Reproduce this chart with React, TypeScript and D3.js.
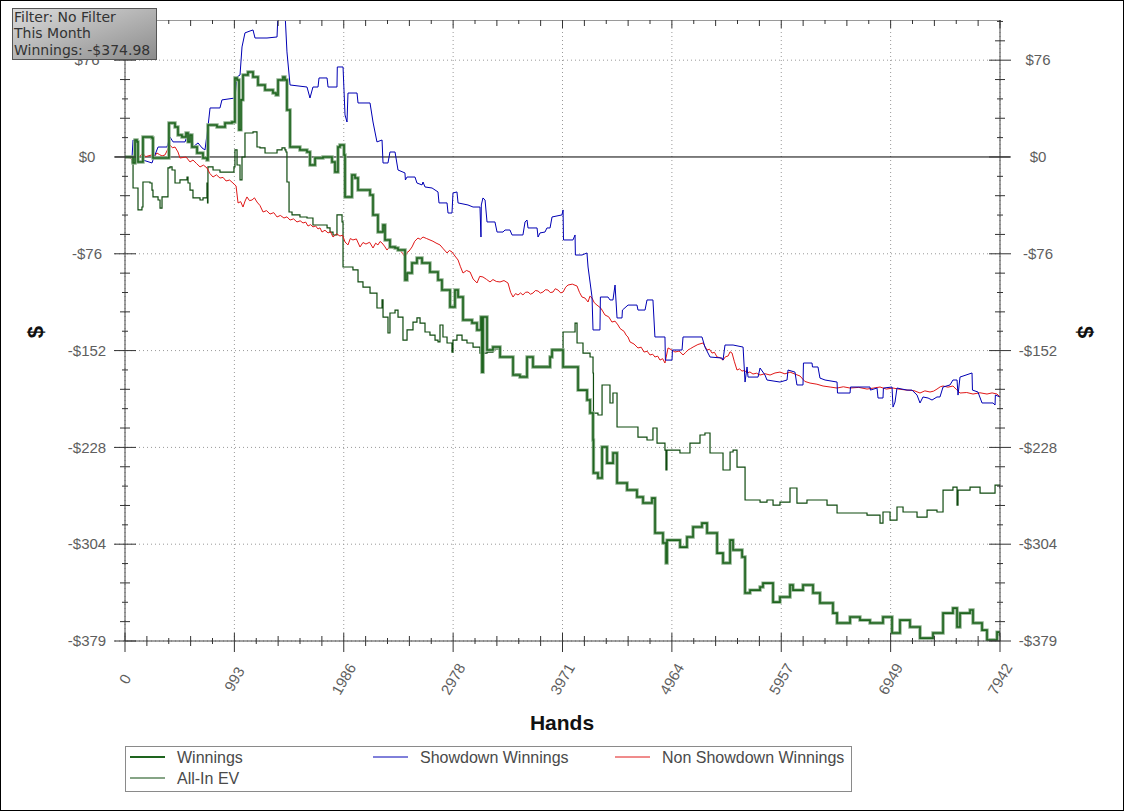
import React from "react";
import * as d3 from "d3";

// [hands, dollars]
const winnings: [number, number][] = [
  [0, 0], [73, -4.7], [91, 13.3], [109, 11.8], [118, -3.9], [163, 15.7], [245, 14.9], [254, -0.8],
  [363, -0.8], [399, 26.6], [454, 23.5], [481, 17.2], [517, 15.7], [554, 18.8], [572, 11.8], [590, 17.2],
  [608, 7.8], [654, 3.1], [708, -0.8], [744, -2.4], [753, 25.1], [835, 23.5], [908, 26.6], [971, 27.4],
  [998, 61.9], [1017, 60.3], [1035, 21.2], [1053, 44.7], [1071, 64.2], [1116, 66.6], [1162, 62.7],
  [1207, 56.4], [1271, 52.5], [1343, 50.1], [1371, 48.6], [1389, 60.3], [1434, 62.7], [1452, 60.3],
  [1470, 36.8], [1498, 7.8], [1588, 5.5], [1652, 3.9], [1679, -6.3], [1725, -0.8], [1797, 0],
  [1879, -3.9], [1906, -11.8], [1933, 7.8], [1951, 9.4], [1988, 1.6], [1997, -31.3], [2060, -14.1],
  [2088, -16.5], [2115, -25.9], [2224, -29.8], [2251, -45.4], [2296, -58.8], [2342, -53.3], [2360, -65.0],
  [2405, -70.5], [2451, -71.3], [2478, -72.9], [2542, -96.4], [2560, -90.9], [2605, -83.1], [2650, -79.1],
  [2696, -83.1], [2768, -90.1], [2841, -96.4], [2877, -104.2], [2950, -117.5], [2995, -104.2],
  [3023, -109.7], [3068, -127.7], [3150, -130.1], [3195, -135.5], [3231, -125.4], [3240, -168.5],
  [3250, -125.4], [3277, -125.4], [3286, -151.2], [3340, -148.9], [3404, -156.7], [3494, -156.7],
  [3522, -170.8], [3585, -172.4], [3649, -156.7], [3703, -164.5], [3794, -164.5], [3858, -156.7],
  [3876, -151.2], [3967, -151.2], [3976, -164.5], [4066, -164.5], [4112, -182.6], [4194, -190.4],
  [4221, -200.6], [4248, -221.7], [4252, -247.6], [4293, -251.5], [4330, -227.2], [4375, -239.8],
  [4430, -231.9], [4466, -255.4], [4557, -260.9], [4647, -266.4], [4702, -271.1], [4783, -267.2],
  [4811, -294.6], [4883, -302.4], [4911, -318.1], [4920, -300.1], [4974, -300.1], [5038, -305.6],
  [5101, -297.7], [5156, -289.9], [5237, -286.8], [5283, -294.6], [5374, -310.3], [5428, -318.1],
  [5492, -300.1], [5519, -307.9], [5601, -313.4], [5628, -341.6], [5673, -339.3], [5764, -336.9],
  [5791, -333.8], [5882, -348.7], [5945, -344.7], [6036, -335.3], [6063, -339.3], [6154, -335.3],
  [6245, -341.6], [6308, -349.4], [6426, -357.3], [6463, -365.1], [6581, -360.4], [6671, -362.8],
  [6762, -365.1], [6880, -360.4], [6962, -372.9], [7034, -362.8], [7125, -368.2], [7216, -376.9],
  [7334, -372.9], [7425, -357.3], [7515, -353.4], [7552, -368.2], [7579, -357.3], [7670, -354.9],
  [7697, -365.1], [7779, -370.6], [7824, -378.4], [7879, -378.4], [7915, -372.2], [7942, -375.0],
];

const allInEV: [number, number][] = [
  [0, 0], [64, -4.7], [73, -24.3], [118, -41.5], [154, -39.2], [163, -19.6], [227, -20.4], [245, -25.9],
  [254, -31.3], [300, -33.7], [318, -40.0], [336, -31.3], [390, -8.6], [408, -7.8], [427, -10.2],
  [454, -20.4], [499, -18.0], [563, -15.7], [572, -20.4], [590, -25.9], [617, -32.1], [681, -33.7],
  [708, -32.1], [744, -20.4], [749, -36.0], [753, -7.8], [799, -10.2], [862, -11.8], [953, -11.8],
  [989, -7.8], [998, 5.5], [1017, -6.3], [1044, -18.0], [1062, 0], [1089, 18.8], [1162, 19.6],
  [1198, 7.8], [1225, 7.1], [1271, 3.1], [1343, 3.1], [1380, 5.5], [1425, 7.1], [1452, 5.5],
  [1461, 3.9], [1470, -19.6], [1489, -43.1], [1516, -45.4], [1588, -47.0], [1652, -47.8], [1706, -53.3],
  [1770, -53.3], [1834, -55.6], [1861, -58.8], [1888, -61.1], [1924, -45.4], [1951, -45.4], [1970, -50.9],
  [1979, -86.2], [2069, -88.5], [2115, -97.9], [2160, -101.9], [2224, -106.6], [2287, -118.3],
  [2333, -112.0], [2342, -125.4], [2387, -137.9], [2405, -122.2], [2451, -119.9], [2478, -125.4],
  [2523, -143.4], [2560, -135.5], [2614, -129.3], [2650, -126.1], [2678, -130.1], [2723, -137.1],
  [2768, -139.5], [2814, -143.4], [2841, -144.9], [2859, -131.6], [2886, -141.0], [2923, -145.7],
  [2968, -152.8], [2977, -143.4], [3013, -139.5], [3059, -143.4], [3104, -145.7], [3159, -148.9],
  [3222, -153.6], [3286, -152.8], [3340, -150.4], [3404, -156.7], [3494, -156.7], [3522, -170.0],
  [3585, -171.6], [3649, -156.7], [3703, -163.8], [3794, -163.8], [3858, -155.9], [3876, -150.4],
  [3966, -150.4], [3976, -137.1], [4085, -130.1], [4103, -145.7], [4157, -153.6], [4221, -156.7],
  [4248, -169.2], [4252, -200.6], [4293, -202.1], [4330, -178.6], [4402, -192.7], [4429, -184.9],
  [4466, -211.5], [4557, -211.5], [4656, -219.4], [4738, -221.7], [4792, -212.3], [4829, -224.1],
  [4901, -229.6], [4910, -245.2], [4919, -229.6], [4974, -229.6], [5037, -231.9], [5128, -224.1],
  [5219, -217.8], [5264, -216.2], [5310, -231.9], [5428, -245.2], [5492, -231.1], [5519, -229.6],
  [5555, -242.9], [5600, -242.9], [5628, -268.7], [5673, -268.7], [5764, -270.3], [5827, -268.7],
  [5882, -272.7], [5945, -270.3], [6036, -259.3], [6099, -271.1], [6190, -268.7], [6308, -268.7],
  [6372, -272.7], [6463, -278.9], [6581, -278.9], [6735, -280.5], [6853, -286.8], [6880, -278.1],
  [6944, -284.4], [7007, -274.2], [7062, -278.1], [7189, -282.1], [7280, -276.6], [7370, -278.1],
  [7425, -260.9], [7515, -258.6], [7552, -272.7], [7561, -260.9], [7670, -258.6], [7761, -263.3],
  [7897, -257.0], [7942, -259.3],
];

const showdown: [number, number][] = [
  [0, 0], [64, 0], [73, 13.3], [109, 11.8], [118, -4.7], [163, -2.4], [245, -4.7], [254, -2.4],
  [300, 7.8], [381, 7.8], [408, 15.7], [436, 11.8], [545, 11.8], [572, 18.8], [608, 17.2], [617, 7.8],
  [663, 11.0], [699, 7.1], [726, 5.5], [753, 23.5], [772, 38.4], [862, 38.4], [880, 44.7], [998, 46.2],
  [1017, 62.7], [1044, 64.2], [1062, 86.2], [1089, 97.2], [1135, 98.7], [1162, 99.5], [1180, 93.2],
  [1289, 93.2], [1380, 94.0], [1389, 113.6], [1452, 113.6], [1470, 82.3], [1498, 56.4], [1652, 54.8],
  [1679, 46.2], [1706, 54.8], [1752, 54.8], [1761, 61.9], [1834, 61.9], [1843, 54.8], [1924, 54.8],
  [1927, 70.5], [1979, 70.5], [1997, 32.9], [2015, 27.4], [2024, 50.1], [2106, 50.1], [2115, 42.3],
  [2224, 42.3], [2251, 27.4], [2287, 11.8], [2333, 13.3], [2342, -4.7], [2387, -4.7], [2405, 3.9],
  [2451, 3.9], [2478, -10.2], [2541, -12.5], [2545, -18.0], [2560, -15.7], [2632, -15.7], [2650, -20.4],
  [2696, -21.9], [2705, -19.6], [2723, -23.5], [2787, -24.3], [2841, -27.4], [2850, -36.0], [2923, -36.0],
  [2932, -43.9], [2968, -43.9], [2977, -28.2], [3013, -27.4], [3023, -36.0], [3113, -37.6], [3159, -39.2],
  [3222, -39.2], [3231, -62.7], [3234, -37.6], [3249, -32.1], [3268, -33.7], [3286, -50.9], [3358, -50.9],
  [3377, -58.8], [3431, -58.8], [3449, -57.2], [3494, -57.2], [3513, -61.1], [3612, -61.1], [3631, -50.9],
  [3649, -49.4], [3658, -55.6], [3740, -55.6], [3749, -62.7], [3767, -59.5], [3812, -58.8], [3830, -55.6],
  [3858, -55.6], [3876, -47.0], [3966, -45.4], [3976, -41.5], [3980, -65.0], [4066, -65.0], [4085, -61.1],
  [4088, -76.8], [4148, -76.8], [4193, -75.2], [4203, -86.2], [4239, -109.7], [4248, -135.5],
  [4311, -135.5], [4315, -109.7], [4384, -109.7], [4402, -112.0], [4429, -112.0], [4448, -100.3],
  [4466, -126.1], [4511, -126.1], [4515, -119.9], [4566, -116.0], [4647, -116.0], [4656, -119.9],
  [4720, -119.9], [4738, -112.0], [4792, -112.0], [4810, -141.0], [4901, -141.0], [4905, -159.1],
  [4965, -159.1], [4969, -151.2], [5056, -151.2], [5065, -141.0], [5237, -141.0], [5264, -148.9],
  [5310, -156.7], [5419, -157.5], [5428, -159.1], [5446, -147.3], [5519, -147.3], [5610, -148.9],
  [5628, -176.3], [5646, -164.5], [5655, -172.4], [5746, -172.4], [5764, -165.3], [5809, -170.8],
  [5827, -174.7], [5945, -176.3], [6009, -174.7], [6018, -166.9], [6081, -168.5], [6099, -178.6],
  [6154, -178.6], [6158, -161.4], [6236, -161.4], [6240, -164.5], [6290, -164.5], [6308, -173.2],
  [6354, -174.7], [6463, -176.3], [6467, -184.9], [6581, -184.9], [6585, -180.2], [6762, -180.2],
  [6766, -182.6], [6826, -181.0], [6835, -188.8], [6880, -188.8], [6884, -181.0], [6962, -180.2],
  [6971, -195.9], [6989, -192.0], [7007, -181.0], [7098, -182.6], [7143, -182.6], [7189, -186.5],
  [7216, -192.7], [7243, -188.0], [7289, -188.8], [7325, -190.4], [7370, -188.0], [7397, -188.0],
  [7425, -180.2], [7488, -178.6], [7515, -174.7], [7552, -174.7], [7561, -186.5], [7579, -172.4],
  [7688, -169.2], [7692, -182.6], [7742, -184.1], [7779, -192.7], [7879, -192.7], [7897, -194.3],
  [7900, -186.5], [7942, -188.0],
];

const nonShowdown: [number, number][] = [
  [0, 0], [45, -0.8], [91, -3.9], [118, -0.8], [140, 1.2], [163, 3.1], [186, 0.2], [209, 0.8],
  [245, 1.6], [268, 0.5], [290, 3.1], [313, 1.9], [336, 0.8], [363, 1.6], [408, 9.4], [430, 7.2],
  [454, 7.8], [481, 3.9], [499, -0.8], [554, 0], [590, -3.9], [617, -2.4], [650, -5.2], [681, -7.8],
  [712, -6.4], [744, -8.6], [770, -12.9], [799, -15.7], [830, -14.0], [862, -16.5], [890, -16.0],
  [917, -18.8], [950, -18.1], [980, -20.4], [1008, -22.7], [1026, -36.0], [1050, -35.0], [1071, -39.2],
  [1090, -34.5], [1107, -31.3], [1130, -34.2], [1153, -33.7], [1175, -32.0], [1198, -35.3], [1225, -38.0],
  [1253, -43.1], [1285, -42.0], [1316, -44.7], [1350, -43.6], [1380, -47.0], [1410, -45.8], [1443, -47.8],
  [1470, -46.9], [1498, -49.4], [1530, -48.5], [1561, -50.9], [1590, -50.0], [1616, -51.7], [1640, -51.0],
  [1661, -54.1], [1685, -53.0], [1706, -54.8], [1730, -54.0], [1752, -56.4], [1770, -55.5], [1788, -58.8],
  [1815, -57.4], [1843, -59.5], [1865, -58.6], [1888, -62.7], [1920, -60.2], [1951, -61.9], [1975, -61.3],
  [1997, -66.6], [2024, -68.9], [2045, -63.9], [2069, -65.0], [2100, -64.2], [2133, -70.5], [2160, -67.0],
  [2187, -68.2], [2220, -66.8], [2251, -71.3], [2275, -67.5], [2296, -68.9], [2315, -66.2], [2333, -67.4],
  [2355, -69.8], [2378, -72.9], [2405, -70.0], [2432, -71.3], [2465, -70.2], [2496, -72.9], [2520, -75.6],
  [2541, -78.4], [2560, -74.8], [2578, -73.7], [2605, -70.5], [2630, -66.0], [2659, -63.5], [2680, -64.5],
  [2705, -62.7], [2735, -63.8], [2768, -65.0], [2795, -66.0], [2823, -67.4], [2859, -68.9], [2890, -72.0],
  [2923, -75.2], [2945, -73.2], [2968, -74.4], [2995, -77.6], [3023, -80.7], [3045, -86.0], [3068, -90.9],
  [3100, -88.9], [3132, -90.1], [3160, -95.6], [3195, -98.7], [3220, -93.5], [3249, -94.0], [3280, -95.8],
  [3313, -97.9], [3340, -96.0], [3370, -97.5], [3404, -97.9], [3440, -96.8], [3476, -98.7], [3500, -106.0],
  [3522, -109.7], [3545, -107.0], [3567, -108.1], [3590, -106.5], [3612, -108.1], [3635, -106.0],
  [3658, -105.8], [3680, -107.5], [3703, -106.6], [3725, -104.6], [3749, -105.0], [3770, -106.6],
  [3794, -105.8], [3815, -104.0], [3839, -104.2], [3860, -106.2], [3885, -105.8], [3905, -103.2],
  [3930, -104.2], [3955, -106.5], [3976, -105.8], [4000, -102.0], [4021, -100.3], [4060, -99.6],
  [4103, -101.1], [4125, -106.0], [4148, -109.7], [4175, -110.5], [4203, -113.6], [4220, -109.0],
  [4239, -110.5], [4260, -114.2], [4284, -116.0], [4320, -118.5], [4357, -123.8], [4390, -125.2],
  [4420, -129.3], [4448, -128.6], [4475, -131.6], [4493, -134.3], [4511, -135.5], [4530, -136.6],
  [4548, -139.5], [4565, -141.0], [4584, -144.9], [4620, -146.5], [4656, -149.6], [4685, -149.0],
  [4711, -152.8], [4740, -152.2], [4765, -155.1], [4790, -154.5], [4810, -156.7], [4835, -156.0],
  [4856, -159.1], [4880, -158.0], [4901, -161.4], [4929, -149.6], [4960, -151.0], [4992, -152.8],
  [5030, -152.0], [5065, -155.1], [5090, -153.0], [5110, -151.2], [5135, -150.0], [5156, -148.9],
  [5200, -146.9], [5246, -145.7], [5265, -148.5], [5283, -151.2], [5305, -150.6], [5328, -153.6],
  [5350, -153.0], [5374, -156.7], [5400, -157.2], [5428, -159.1], [5450, -156.5], [5474, -155.9],
  [5492, -152.6], [5510, -153.6], [5530, -160.0], [5555, -166.9], [5578, -166.0], [5600, -167.7],
  [5625, -167.2], [5646, -169.2], [5672, -168.4], [5700, -170.0], [5732, -169.4], [5764, -170.8],
  [5810, -169.8], [5855, -170.8], [5900, -169.2], [5945, -168.5], [5990, -169.9], [6036, -168.5],
  [6080, -170.0], [6127, -171.6], [6170, -175.8], [6218, -177.1], [6280, -178.0], [6336, -179.4],
  [6400, -180.2], [6463, -181.0], [6520, -180.0], [6581, -181.0], [6660, -180.5], [6735, -181.8],
  [6795, -181.0], [6853, -180.2], [6910, -181.8], [6971, -181.0], [7035, -182.0], [7098, -182.6],
  [7160, -183.0], [7216, -184.9], [7260, -183.2], [7307, -184.1], [7340, -183.4], [7370, -181.8],
  [7400, -180.0], [7425, -179.4], [7470, -180.3], [7515, -179.4], [7545, -182.0], [7579, -184.9],
  [7640, -184.5], [7697, -185.7], [7760, -184.7], [7824, -185.7], [7870, -184.8], [7915, -185.7],
  [7942, -188.0],
];

const xTickValues = [0, 992.75, 1985.5, 2978.25, 3971, 4963.75, 5956.5, 6949.25, 7942];
const xTickLabels = ["0", "993", "1986", "2978", "3971", "4964", "5957", "6949", "7942"];
const yTickValues = [75.83, 0, -75.83, -151.66, -227.49, -303.32, -379.15];
const yTickLabels = ["$76", "$0", "-$76", "-$152", "-$228", "-$304", "-$379"];
const infoLines = ["Filter: No Filter", "This Month", "Winnings: -$374.98"];
const legendNames = ["Winnings", "Showdown Winnings", "Non Showdown Winnings", "All-In EV"];

const X0 = 125, X1 = 1000, Y0 = 20, Y1 = 641;

export default function App() {
  const x = d3.scaleLinear().domain([0, 7942]).range([X0, X1]);
  const y = d3.scaleLinear().domain([-379.15, 107.3]).range([Y1, Y0]);
  const line = d3.line<[number, number]>().x((d) => x(d[0])).y((d) => y(d[1]));
  const stepLine = d3
    .line<[number, number]>()
    .x((d) => x(d[0]))
    .y((d) => y(d[1]))
    .curve(d3.curveStepAfter);

  const xMinor = d3.range(0, 41).map((i) => i * (7942 / 40));
  const yMinor = d3.range(0, 33).map((i) => -379.15 + i * 15.166);

  const font = "'Liberation Sans', Arial, sans-serif";
  const tickColor = "#333";
  const labelColor = "#5e5e5e";

  const legendRows = [
    { name: legendNames[0], x: 130, y: 757, color: "#1e641e", w: 2.2 },
    { name: legendNames[1], x: 373, y: 757, color: "#0000b4", w: 1 },
    { name: legendNames[2], x: 615, y: 757, color: "#e01818", w: 1 },
    { name: legendNames[3], x: 130, y: 778, color: "#0f4a0f", w: 1.1 },
  ];

  const tickLen = (i: number) => (i % 5 === 0 ? 11 : i % 2 === 1 ? 5 : 3);

  return (
    <svg
      width={1124}
      height={811}
      style={{ position: "absolute", left: 0, top: 0, background: "#fff" }}
      fontFamily={font}
    >
      <defs>
        <clipPath id="plotClip">
          <rect x={X0} y={Y0} width={X1 - X0} height={Y1 - Y0} />
        </clipPath>
        <linearGradient id="infoGrad" x1="0" y1="0" x2="1" y2="1">
          <stop offset="0%" stopColor="#dcdcdc" />
          <stop offset="100%" stopColor="#8c8c8c" />
        </linearGradient>
      </defs>
      <rect x={0.5} y={0.5} width={1123} height={810} fill="#fff" stroke="#000" />

      {/* grid */}
      {yTickValues.map((v, i) =>
        v === 0 ? null : (
          <line key={"gy" + i} x1={115} x2={X1} y1={y(v)} y2={y(v)} stroke="#999" strokeDasharray="1,3" />
        )
      )}
      {xTickValues.map((v, i) => (
        <line key={"gx" + i} x1={x(v)} x2={x(v)} y1={Y0} y2={Y1} stroke="#999" strokeDasharray="1,3" />
      ))}
      <line x1={115} x2={1010} y1={y(0)} y2={y(0)} stroke="#000" strokeWidth={1} />

      {/* series */}
      <g clipPath="url(#plotClip)" fill="none" strokeLinejoin="miter">
        <path d={stepLine(allInEV) || ""} stroke="#0f4a0f" strokeWidth={1.2} />
        <path d={line(nonShowdown) || ""} stroke="#e01818" strokeWidth={1} />
        <path d={line(showdown) || ""} stroke="#0000b4" strokeWidth={1} />
        <path d={stepLine(winnings) || ""} stroke="#8db08d" strokeWidth={3.4} />
        <path d={stepLine(winnings) || ""} stroke="#1e641e" strokeWidth={1.6} />
      </g>

      {/* frame / axes */}
      <line x1={X0} x2={X1} y1={Y0 + 0.5} y2={Y0 + 0.5} stroke="#9a9a9a" />
      <line x1={X0} x2={X0} y1={Y0} y2={Y1} stroke="#444" />
      <line x1={X1} x2={X1} y1={Y0} y2={Y1} stroke="#444" />
      <line x1={X0} x2={X1} y1={Y1} y2={Y1} stroke="#444" />

      {xMinor.map((v, i) => {
        const len = tickLen(i);
        return (
          <g key={"xt" + i} stroke={tickColor}>
            <line x1={x(v)} x2={x(v)} y1={Y1 - (i % 5 === 0 ? 8 : len)} y2={Y1 + len} />
            <line x1={x(v)} x2={x(v)} y1={Y0} y2={Y0 + (i % 5 === 0 ? 8 : len + 1)} />
          </g>
        );
      })}
      {yMinor.map((v, i) => {
        const len = tickLen(i);
        return (
          <g key={"yt" + i} stroke={tickColor}>
            <line x1={X0 - len} x2={X0 + len} y1={y(v)} y2={y(v)} />
            <line x1={X1 - len} x2={X1 + len} y1={y(v)} y2={y(v)} />
          </g>
        );
      })}

      {/* tick labels */}
      {yTickValues.map((v, i) => (
        <g key={"yl" + i} fontSize={15} fill={labelColor} textAnchor="middle">
          <text x={87} y={y(v)} dy="0.35em">{yTickLabels[i]}</text>
          <text x={1038} y={y(v)} dy="0.35em">{yTickLabels[i]}</text>
        </g>
      ))}
      {xTickValues.map((v, i) => (
        <text
          key={"xl" + i}
          transform={`translate(${x(v)},679) rotate(-60)`}
          fontSize={15}
          fill={labelColor}
          textAnchor="middle"
          dy="0.35em"
        >
          {xTickLabels[i]}
        </text>
      ))}

      {/* axis titles */}
      <text x={562} y={730} textAnchor="middle" fontSize={21} fontWeight="bold" fill="#111">Hands</text>
      <text transform="translate(35,332) rotate(-90)" textAnchor="middle" dy="0.35em" fontSize={22} fontWeight="bold" fill="#111">$</text>
      <text transform="translate(1086,332) rotate(90)" textAnchor="middle" dy="0.35em" fontSize={22} fontWeight="bold" fill="#111">$</text>

      {/* legend */}
      <rect x={125.5} y={746.5} width={726} height={45} fill="#fff" stroke="#8a8a8a" />
      {legendRows.map((r, i) => (
        <g key={"lg" + i}>
          <line x1={r.x} x2={r.x + 35} y1={r.y} y2={r.y} stroke={r.color} strokeWidth={r.w} />
          <text x={r.x + 47} y={r.y} dy="0.35em" fontSize={16} fill="#4a4a4a">{r.name}</text>
        </g>
      ))}

      {/* info box */}
      <rect x={12.5} y={8.5} width={144} height={51} fill="url(#infoGrad)" stroke="#555" />
      {infoLines.map((t, i) => (
        <text key={"il" + i} x={14} y={17 + i * 16.5} dy="0.35em" fontSize={14} fill="#333" fontFamily="'DejaVu Sans', Verdana, sans-serif">
          {t}
        </text>
      ))}
    </svg>
  );
}
